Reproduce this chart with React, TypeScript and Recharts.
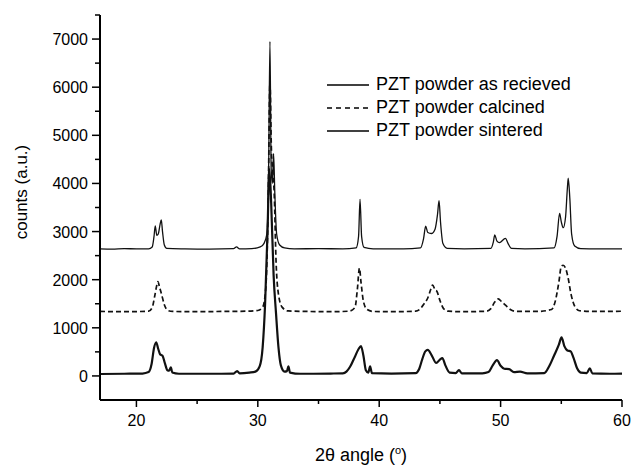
import { LineChart, Line, XAxis, YAxis } from 'recharts'

// 2theta (deg) vs counts
const asReceived: [number, number][] = [
  [17, 2640], [18, 2635], [19, 2645], [20, 2640], [21, 2640], [21.3, 2680], [21.45, 2900],
  [21.55, 3120], [21.68, 2920], [21.8, 2950], [21.95, 3150], [22.05, 3240], [22.15, 3000],
  [22.3, 2720], [22.5, 2650], [24, 2640], [26, 2635], [28, 2645], [28.25, 2680], [28.5, 2640],
  [29.5, 2645], [30.2, 2680], [30.5, 2750], [30.75, 2950], [30.9, 4500], [31.0, 6950],
  [31.1, 4300], [31.2, 4000], [31.3, 4620], [31.4, 3800], [31.55, 2950], [31.8, 2720],
  [32.2, 2660], [33, 2640], [35, 2645], [37, 2640], [38.1, 2660], [38.3, 2900], [38.42, 3670],
  [38.55, 2900], [38.75, 2670], [39.5, 2640], [42, 2640], [43.4, 2660], [43.65, 2850],
  [43.83, 3110], [44.0, 2980], [44.3, 2960], [44.6, 3050], [44.8, 3350], [44.93, 3640],
  [45.05, 3200], [45.25, 2750], [45.6, 2650], [47, 2640], [49.2, 2650], [49.4, 2780],
  [49.52, 2930], [49.7, 2800], [49.9, 2770], [50.4, 2860], [50.6, 2760], [50.9, 2650],
  [52, 2640], [54.4, 2660], [54.65, 2900], [54.86, 3380], [55.0, 3200], [55.16, 3080],
  [55.35, 3300], [55.5, 3900], [55.57, 4110], [55.7, 3700], [55.85, 2950], [56.1, 2700],
  [56.6, 2645], [58, 2640], [60, 2640],
]

const calcined: [number, number][] = [
  [17, 1340], [19, 1335], [21, 1345], [21.3, 1420], [21.5, 1650], [21.65, 1850], [21.77, 1960],
  [21.9, 1850], [22.05, 1720], [22.3, 1480], [22.6, 1360], [23, 1340], [25, 1335], [27, 1340],
  [29, 1345], [30, 1360], [30.4, 1430], [30.65, 1800], [30.85, 3500], [31.0, 6100],
  [31.12, 4700], [31.25, 4200], [31.35, 3800], [31.5, 2400], [31.7, 1700], [32.0, 1430],
  [32.5, 1350], [34, 1340], [36, 1335], [37.5, 1345], [38.0, 1420], [38.2, 1800], [38.37, 2240],
  [38.5, 1950], [38.7, 1550], [39.0, 1380], [39.5, 1340], [41, 1335], [43, 1345], [43.4, 1400],
  [43.7, 1500], [44.0, 1620], [44.25, 1800], [44.4, 1890], [44.6, 1790], [44.75, 1760],
  [45.0, 1570], [45.3, 1400], [45.7, 1345], [47, 1335], [48.8, 1345], [49.2, 1400],
  [49.5, 1530], [49.8, 1600], [50.1, 1540], [50.4, 1470], [50.8, 1380], [51.3, 1340],
  [53, 1340], [54.2, 1380], [54.5, 1550], [54.8, 1950], [55.0, 2280], [55.15, 2300],
  [55.35, 2240], [55.55, 2050], [55.8, 1700], [56.1, 1450], [56.5, 1355], [58, 1340], [60, 1345],
]

const sintered: [number, number][] = [
  [17, 40], [19, 45], [20.5, 50], [21.0, 80], [21.25, 250], [21.45, 580], [21.63, 700],
  [21.8, 560], [21.95, 450], [22.15, 420], [22.35, 260], [22.55, 120], [22.7, 110],
  [22.84, 180], [22.95, 70], [23.5, 45], [26, 45], [28, 50], [28.3, 100], [28.5, 55],
  [29.3, 70], [29.8, 90], [30.15, 200], [30.4, 600], [30.6, 1500], [30.8, 3000], [30.95, 4300],
  [31.1, 3600], [31.3, 2100], [31.5, 1300], [31.7, 600], [31.9, 220], [32.2, 90], [32.4, 100],
  [32.52, 200], [32.65, 70], [33.5, 45], [36, 50], [37.0, 55], [37.3, 90], [37.6, 190],
  [38.0, 400], [38.3, 560], [38.5, 620], [38.7, 420], [38.9, 120], [39.1, 70], [39.25, 200],
  [39.4, 60], [41, 50], [43.0, 60], [43.3, 150], [43.55, 350], [43.8, 510], [44.0, 540],
  [44.3, 440], [44.7, 270], [45.0, 340], [45.2, 370], [45.45, 220], [45.8, 70], [46.3, 60],
  [46.57, 120], [46.8, 55], [48.5, 55], [49.0, 80], [49.35, 220], [49.7, 330], [50.0, 210],
  [50.3, 150], [50.7, 140], [51.1, 80], [51.6, 90], [52.2, 55], [53.6, 60], [54.0, 200],
  [54.4, 420], [54.8, 650], [55.02, 800], [55.25, 620], [55.5, 530], [55.77, 510], [56.0, 380],
  [56.3, 160], [56.6, 70], [57.1, 60], [57.35, 160], [57.55, 55], [59, 45], [60, 50],
]

const xTicks = [20, 25, 30, 35, 40, 45, 50, 55, 60]
const yTicks = [0, 500, 1000, 1500, 2000, 2500, 3000, 3500, 4000, 4500, 5000, 5500, 6000, 6500, 7000, 7500]

const seriesNames = ['PZT powder as recieved', 'PZT powder calcined', 'PZT powder sintered']

const toRows = (pts: [number, number][]) => pts.map(([x, y]) => ({ x, y }))

const FONT = '"Liberation Sans", Arial, sans-serif'

const XTick = (props: any) => {
  const { x, y, payload } = props
  const major = payload.value % 10 === 0
  return (
    <g>
      <line x1={x} x2={x} y1={y} y2={y + (major ? 7 : 4)} stroke="#000" strokeWidth={1.5} />
      {major && (
        <text x={x} y={y + 26} textAnchor="middle" fontSize={16} fontFamily={FONT} fill="#000">
          {payload.value}
        </text>
      )}
    </g>
  )
}

const YTick = (props: any) => {
  const { x, y, payload } = props
  const major = payload.value % 1000 === 0
  return (
    <g>
      <line x1={x - (major ? 8 : 5)} x2={x} y1={y} y2={y} stroke="#000" strokeWidth={1.5} />
      {major && (
        <text x={x - 12} y={y + 6} textAnchor="end" fontSize={16} fontFamily={FONT} fill="#000">
          {payload.value}
        </text>
      )}
    </g>
  )
}

// legend drawn over the plot, top-right like the original
const LegendBox = () => (
  <div
    style={{
      position: 'absolute',
      left: 327,
      top: 73,
      fontFamily: FONT,
      fontSize: 18,
      color: '#000',
    }}
  >
    {seriesNames.map((name, i) => (
      <div key={name} style={{ display: 'flex', alignItems: 'center', height: 23 }}>
        <svg width={42} height={10} style={{ marginRight: 7 }}>
          <line
            x1={0}
            x2={42}
            y1={5}
            y2={5}
            stroke="#000"
            strokeWidth={1.6}
            strokeDasharray={i === 1 ? '5 4' : undefined}
          />
        </svg>
        <span style={{ lineHeight: '23px', whiteSpace: 'nowrap' }}>{name}</span>
      </div>
    ))}
  </div>
)

export default function App() {
  return (
    <div style={{ position: 'absolute', left: 0, top: 0, width: 632, height: 465, background: '#fff' }}>
      <LineChart width={632} height={465} margin={{ top: 15, right: 10, bottom: 35, left: 40 }}>
        <XAxis
          dataKey="x"
          type="number"
          domain={[17, 60]}
          ticks={xTicks}
          interval={0}
          allowDataOverflow
          axisLine={{ stroke: '#000', strokeWidth: 2 }}
          tickLine={false}
          tickSize={0}
          tickMargin={0}
          tick={<XTick />}
          height={30}
          label={() => (
            <text x={361} y={461} textAnchor="middle" fontSize={18} fontFamily={FONT} fill="#000">
              2θ angle (<tspan dy={-7} fontSize={11}>o</tspan>
              <tspan dy={7}>)</tspan>
            </text>
          )}
        />
        <YAxis
          dataKey="y"
          type="number"
          domain={[-500, 7500]}
          ticks={yTicks}
          interval={0}
          allowDataOverflow
          axisLine={{ stroke: '#000', strokeWidth: 2 }}
          tickLine={false}
          tickSize={0}
          tickMargin={0}
          tick={<YTick />}
          width={60}
          label={() => (
            <text
              x={21}
              y={192}
              transform="rotate(-90, 21, 192)"
              textAnchor="middle"
              dominantBaseline="central"
              fontSize={17}
              fontFamily={FONT}
              fill="#000"
            >
              counts (a.u.)
            </text>
          )}
        />
        <Line
          data={toRows(asReceived)}
          dataKey="y"
          name={seriesNames[0]}
          type="monotone"
          stroke="#111"
          strokeWidth={1.3}
          dot={false}
          isAnimationActive={false}
        />
        <Line
          data={toRows(calcined)}
          dataKey="y"
          name={seriesNames[1]}
          type="monotone"
          stroke="#111"
          strokeWidth={1.7}
          strokeDasharray="5 3"
          dot={false}
          isAnimationActive={false}
        />
        <Line
          data={toRows(sintered)}
          dataKey="y"
          name={seriesNames[2]}
          type="monotone"
          stroke="#111"
          strokeWidth={2.2}
          dot={false}
          isAnimationActive={false}
        />
      </LineChart>
      <LegendBox />
    </div>
  )
}
